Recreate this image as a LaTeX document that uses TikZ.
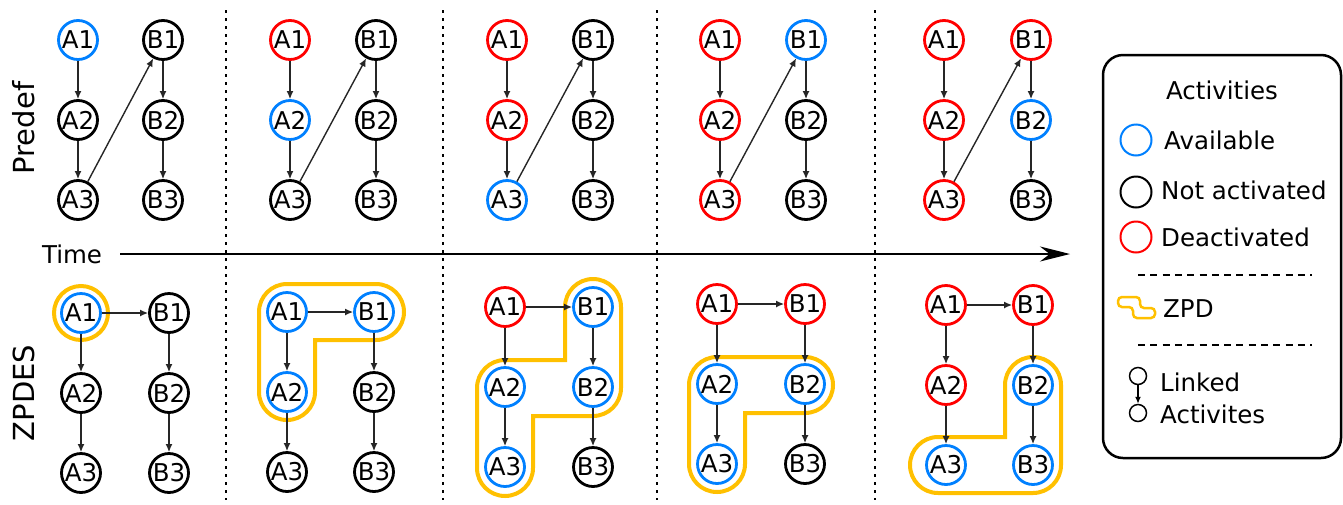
\documentclass[tikz,border=0pt]{standalone}
\usepackage{fontspec}
\setmainfont{DejaVu Sans}
\usetikzlibrary{arrows.meta}

\definecolor{availblue}{RGB}{0,128,255}
\definecolor{deactred}{RGB}{255,0,0}
\definecolor{zpdgold}{RGB}{255,192,0}

\tikzset{
  act/.style={circle, draw, line width=2.8pt, minimum size=39pt, inner sep=0pt},
  avail/.style={act, draw=availblue},
  notact/.style={act, draw=black},
  deact/.style={act, draw=deactred},
  link/.style={-{Latex[length=8pt,width=7pt]}, line width=1.4pt, black!85},
  zpd/.style={draw=zpdgold, line width=4pt, rounded corners=28pt},
  sep/.style={line width=2pt, dash pattern=on 3pt off 5pt},
  legtext/.style={anchor=base west, inner sep=0pt},
}

\begin{document}
\begin{tikzpicture}[x=1pt, y=-1pt, font=\fontsize{24.5}{29}\selectfont]
  \useasboundingbox (0,0) rectangle (1343,504);

  \foreach \x in {226, 443, 657, 875} \draw[sep] (\x,10) -- (\x,500);

  \node[rotate=90, font=\fontsize{29}{34}\selectfont] (predef) at (24,128) {Predef};
  \node[rotate=90, font=\fontsize{29}{34}\selectfont] (zpdes) at (24,393) {ZPDES};

  % time axis
  \node (time) at (72,254) {Time};
  \coordinate (tstart) at (120,254);
  \coordinate (tend) at (1070,254);
  \draw[line width=2pt, -{Stealth[length=30pt,width=15pt]}] (tstart) -- (tend);

  % predefined sequence
  \foreach \p/\xa/\xb/\ai/\aii/\aiii/\bi/\bii/\biii in {
      1/78/163/avail/notact/notact/notact/notact/notact,
      2/290/376/deact/avail/notact/notact/notact/notact,
      3/507/593/deact/deact/avail/notact/notact/notact,
      4/720/806/deact/deact/deact/avail/notact/notact,
      5/944/1031/deact/deact/deact/deact/avail/notact} {
    \node[\ai] (t\p-a1) at (\xa,40) {A1};
    \node[\aii] (t\p-a2) at (\xa,120) {A2};
    \node[\aiii] (t\p-a3) at (\xa,200) {A3};
    \node[\bi] (t\p-b1) at (\xb,40) {B1};
    \node[\bii] (t\p-b2) at (\xb,120) {B2};
    \node[\biii] (t\p-b3) at (\xb,200) {B3};
    \draw[link] (t\p-a1) -- (t\p-a2);
    \draw[link] (t\p-a2) -- (t\p-a3);
    \draw[link] (t\p-a3) -- (t\p-b1);
    \draw[link] (t\p-b1) -- (t\p-b2);
    \draw[link] (t\p-b2) -- (t\p-b3);
  }

  % zpd regions
  \draw[zpd] (81,313) circle[radius=27pt];
  \draw[zpd] (330,284) -- (404,284) -- (404,340) [sharp corners] -- (315,340)
    [rounded corners=28pt] -- (315,420) -- (259,420) -- (259,284) -- cycle;
  \draw[zpd] (621,340) -- (621,416) [sharp corners] -- (533,416)
    [rounded corners=28pt] -- (533,496) -- (477,496) -- (477,360) [sharp corners] -- (565,360)
    [rounded corners=28pt] -- (565,279) -- (621,279) -- cycle;
  \draw[zpd] (760,357) -- (833,357) -- (833,413) [sharp corners] -- (745,413)
    [rounded corners=28pt] -- (745,492) -- (689,492) -- (689,357) -- cycle;
  \draw[zpd] (1061,420) -- (1061,493) -- (910,493) -- (910,437) [sharp corners]
    -- (1005,437) [rounded corners=28pt] -- (1005,357) -- (1061,357) -- cycle;

  % zpdes sequence
  \foreach \p/\xa/\xb/\ya/\ai/\aii/\aiii/\bi/\bii/\biii in {
      1/81/169/313/avail/notact/notact/notact/notact/notact,
      2/287/374/312/avail/avail/notact/avail/notact/notact,
      3/505/593/307/deact/avail/avail/avail/avail/notact,
      4/717/805/304/deact/avail/avail/deact/avail/notact,
      5/946/1033/305/deact/deact/avail/deact/avail/avail} {
    \node[\ai] (z\p-a1) at (\xa,\ya) {A1};
    \node[\aii] (z\p-a2) at (\xa,{\ya+80}) {A2};
    \node[\aiii] (z\p-a3) at (\xa,{\ya+160}) {A3};
    \node[\bi] (z\p-b1) at (\xb,\ya) {B1};
    \node[\bii] (z\p-b2) at (\xb,{\ya+80}) {B2};
    \node[\biii] (z\p-b3) at (\xb,{\ya+160}) {B3};
    \draw[link] (z\p-a1) -- (z\p-b1);
    \draw[link] (z\p-a1) -- (z\p-a2);
    \draw[link] (z\p-a2) -- (z\p-a3);
    \draw[link] (z\p-b1) -- (z\p-b2);
    \draw[link] (z\p-b2) -- (z\p-b3);
  }

  % legend
  \draw[line width=2.5pt, rounded corners=20pt] (1103,55) rectangle (1341,458);
  \node (leg-title) at (1222,90) {Activities};
  \node[circle, draw=availblue, line width=2pt, minimum size=31pt] (leg-avail) at (1136,140) {};
  \node[circle, draw=black, line width=2pt, minimum size=31pt] (leg-notact) at (1136,192) {};
  \node[circle, draw=deactred, line width=2pt, minimum size=31pt] (leg-deact) at (1136,237) {};
  \node[legtext] at (1164,149) {Available};
  \node[legtext] at (1161,199) {Not activated};
  \node[legtext] at (1161,246) {Deactivated};
  \draw[line width=1.8pt, dash pattern=on 7pt off 5.3pt] (1138,275) -- (1312,275);
  \draw[draw=zpdgold, line width=2.5pt, rounded corners=4pt]
    (1118,297) -- (1140,297) -- (1140,308) -- (1155,308) -- (1155,318) -- (1133,318)
    -- (1133,307) -- (1118,307) -- cycle;
  \node[legtext] at (1163,317) {ZPD};
  \draw[line width=1.8pt, dash pattern=on 7pt off 5.3pt] (1138,345) -- (1312,345);
  \node[circle, draw, line width=1.5pt, minimum size=17pt] (leg-l1) at (1138,376) {};
  \node[circle, draw, line width=1.5pt, minimum size=17pt] (leg-l2) at (1138,413) {};
  \draw[-{Latex[length=7pt,width=6pt]}, line width=1.3pt] (leg-l1) -- (leg-l2);
  \node[legtext] at (1160,391) {Linked};
  \node[legtext] at (1160,423) {Activites};
\end{tikzpicture}
\end{document}
